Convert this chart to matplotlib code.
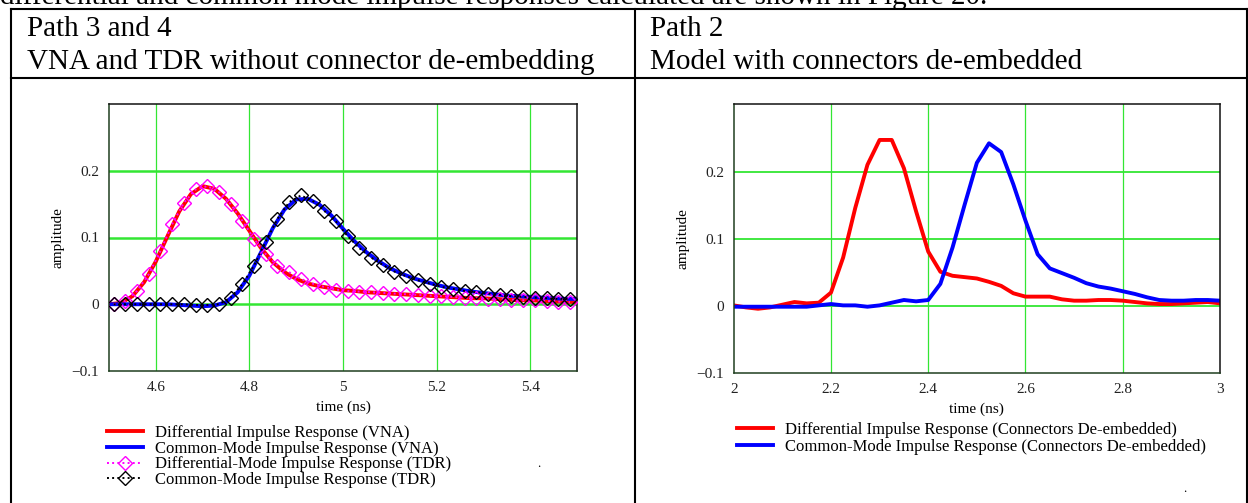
import matplotlib.pyplot as plt
import matplotlib.lines as mlines
import numpy as np

plt.rcParams['font.family'] = ['Liberation Serif', 'DejaVu Serif']

W, H = 1248, 503

# ---- Daten: linkes Diagramm (Path 3 und 4) ----
t_vna = np.round(np.arange(4.5, 5.5001, 0.025), 3)
diff_vna = [0.0, 0.002, 0.012, 0.033, 0.064, 0.102, 0.139, 0.165, 0.177, 0.173,
            0.158, 0.136, 0.110, 0.084, 0.063, 0.048, 0.038, 0.031, 0.027, 0.024,
            0.021, 0.020, 0.018, 0.017, 0.016, 0.015, 0.014, 0.013, 0.012, 0.011,
            0.010, 0.009, 0.009, 0.008, 0.007, 0.006, 0.006, 0.005, 0.004, 0.004,
            0.003]
cm_vna = [0.0, 0.0, 0.0, 0.0, 0.0, 0.0, -0.001, -0.002, -0.003, -0.002,
          0.003, 0.018, 0.043, 0.078, 0.114, 0.142, 0.157, 0.158, 0.149, 0.133,
          0.113, 0.094, 0.078, 0.065, 0.054, 0.046, 0.039, 0.034, 0.029, 0.025,
          0.022, 0.019, 0.017, 0.015, 0.013, 0.012, 0.011, 0.010, 0.009, 0.008,
          0.008]

t_tdr = np.round(np.arange(4.51, 5.49, 0.025), 3)
diff_tdr = [0.0, 0.005, 0.020, 0.045, 0.080, 0.120, 0.152, 0.172, 0.177, 0.168,
            0.150, 0.125, 0.098, 0.075, 0.058, 0.048, 0.038, 0.031, 0.026, 0.022,
            0.020, 0.019, 0.018, 0.017, 0.016, 0.015, 0.014, 0.013, 0.012, 0.011,
            0.010, 0.009, 0.008, 0.008, 0.007, 0.006, 0.006, 0.005, 0.004, 0.003]
cm_tdr = [0.0, 0.0, 0.0, 0.0, 0.0, 0.0, 0.0, -0.001, -0.001, 0.0,
          0.010, 0.030, 0.058, 0.094, 0.128, 0.153, 0.163, 0.155, 0.140, 0.124,
          0.102, 0.084, 0.070, 0.059, 0.049, 0.042, 0.036, 0.031, 0.026, 0.023,
          0.020, 0.018, 0.016, 0.014, 0.012, 0.011, 0.010, 0.009, 0.008, 0.008]

# ---- Daten: rechtes Diagramm (Path 2) ----
t_model = np.round(np.arange(2.0, 3.0001, 0.025), 3)
diff_model = [0.001, -0.002, -0.004, -0.002, 0.002, 0.006, 0.004, 0.005, 0.020, 0.072,
              0.146, 0.210, 0.247, 0.247, 0.205, 0.141, 0.081, 0.051, 0.045, 0.043,
              0.041, 0.036, 0.030, 0.019, 0.014, 0.014, 0.014, 0.010, 0.008, 0.008,
              0.009, 0.009, 0.008, 0.006, 0.004, 0.003, 0.003, 0.004, 0.005, 0.006,
              0.004]
cm_model = [-0.001, -0.001, -0.001, -0.001, -0.001, -0.001, -0.001, 0.001, 0.003, 0.001,
            0.001, -0.001, 0.001, 0.005, 0.009, 0.007, 0.009, 0.033, 0.087, 0.151,
            0.213, 0.242, 0.229, 0.181, 0.127, 0.077, 0.056, 0.049, 0.042, 0.034,
            0.029, 0.026, 0.022, 0.018, 0.013, 0.009, 0.008, 0.008, 0.009, 0.009,
            0.008]

left_xticks = [4.6, 4.8, 5.0, 5.2, 5.4]
left_xlabels = ['4.6', '4.8', '5', '5.2', '5.4']
right_xticks = [2.0, 2.2, 2.4, 2.6, 2.8, 3.0]
right_xlabels = ['2', '2.2', '2.4', '2.6', '2.8', '3']
yticks = [-0.1, 0.0, 0.1, 0.2]
ylabels = ['\u22120.1', '0', '0.1', '0.2']

left_legend = ['Differential Impulse Response (VNA)',
               'Common-Mode Impulse Response (VNA)',
               'Differential-Mode Impulse Response (TDR)',
               'Common-Mode Impulse Response (TDR)']
right_legend = ['Differential Impulse Response (Connectors De-embedded)',
                'Common-Mode Impulse Response (Connectors De-embedded)']

GREEN = '#33e633'
RED = '#ff0000'
BLUE = '#0000ff'
MAG = '#ff00ff'


def px_axes(fig, x0, y0, x1, y1):
    """Achse in Pixelkoordinaten (oben links = 0,0)."""
    return fig.add_axes([x0 / W, 1 - y1 / H, (x1 - x0) / W, (y1 - y0) / H])


def style_axes(ax, xlim, xticks, xlabels, hgrid_lw):
    ax.set_xlim(*xlim)
    ax.set_ylim(-0.1, 0.3)
    for x in xticks:
        if xlim[0] < x < xlim[1]:
            ax.axvline(x, color=GREEN, lw=0.9, zorder=0)
    for y in [0.0, 0.1, 0.2]:
        ax.axhline(y, color=GREEN, lw=hgrid_lw, zorder=0)
    ax.set_xticks(xticks)
    ax.set_xticklabels(xlabels)
    ax.set_yticks(yticks)
    ax.set_yticklabels(ylabels)
    ax.tick_params(length=0, labelsize=11, pad=7, colors='#222222')
    for side in ['top', 'right']:
        ax.spines[side].set_color('#111111')
    for side in ['left', 'bottom']:
        ax.spines[side].set_color('#1f3f1f')
    for s in ax.spines.values():
        s.set_linewidth(1.1)
    ax.set_xlabel('time (ns)', fontsize=11, labelpad=5)
    ax.set_ylabel('amplitude', fontsize=11, labelpad=5)


fig = plt.figure(figsize=(W / 100, H / 100), dpi=100)

# Tabellenrahmen
tab = fig.add_axes([0, 0, 1, 1])
tab.set_xlim(0, W)
tab.set_ylim(H, 0)
tab.axis('off')
for y in [9.3, 77.7]:
    tab.plot([11, W], [y, y], color='black', lw=1.5)
for x in [11, 634.7, 1246.5]:
    tab.plot([x, x], [9.3, H], color='black', lw=1.5)

# abgeschnittene Textzeile oben
tab.text(0, 4, 'differential and common mode impulse responses calculated are shown in Figure 20.',
         fontsize=21, va='baseline', ha='left')
tab.text(27, 36, 'Path 3 and 4', fontsize=21, va='baseline')
tab.text(27, 69, 'VNA and TDR without connector de-embedding', fontsize=21, va='baseline')
tab.text(650, 36, 'Path 2', fontsize=21, va='baseline')
tab.text(650, 69, 'Model with connectors de-embedded', fontsize=21, va='baseline')
tab.text(537, 467, '.', fontsize=9)
tab.text(1183, 492, '.', fontsize=9)

# linkes Diagramm
ax1 = px_axes(fig, 109, 104, 577, 371)
style_axes(ax1, (4.5, 5.5), left_xticks, left_xlabels, 1.8)
ax1.plot(t_vna, diff_vna, color=RED, lw=2.8, zorder=2)
ax1.plot(t_vna, cm_vna, color=BLUE, lw=2.8, zorder=2)
ax1.plot(t_tdr, diff_tdr, color=MAG, ls=':', lw=1.4, marker='D', ms=7.5,
         mfc='none', mec=MAG, mew=1.0, zorder=3)
ax1.plot(t_tdr, cm_tdr, color='black', ls=':', lw=1.4, marker='D', ms=7.5,
         mfc='none', mec='black', mew=1.0, zorder=3)

h1 = [mlines.Line2D([], [], color=RED, lw=2.8),
      mlines.Line2D([], [], color=BLUE, lw=2.8),
      mlines.Line2D([], [], color=MAG, ls=':', lw=1.4, marker='D', ms=7, mfc='none', mew=1.0),
      mlines.Line2D([], [], color='black', ls=':', lw=1.4, marker='D', ms=7, mfc='none', mew=1.0)]
fig.legend(h1, left_legend, loc='upper left', bbox_to_anchor=(107 / W, 1 - 425 / H),
           frameon=False, fontsize=12, handlelength=2.15, handletextpad=0.75,
           borderpad=0, borderaxespad=0, labelspacing=-0.02, numpoints=1)

# rechtes Diagramm
ax2 = px_axes(fig, 733.7, 104.3, 1220, 373.3)
style_axes(ax2, (2.0, 3.0), right_xticks, right_xlabels, 1.3)
ax2.plot(t_model, diff_model, color=RED, lw=2.8, zorder=2)
ax2.plot(t_model, cm_model, color=BLUE, lw=2.8, zorder=2)

h2 = [mlines.Line2D([], [], color=RED, lw=2.8),
      mlines.Line2D([], [], color=BLUE, lw=2.8)]
fig.legend(h2, right_legend, loc='upper left', bbox_to_anchor=(737 / W, 1 - 422 / H),
           frameon=False, fontsize=12, handlelength=2.15, handletextpad=0.75,
           borderpad=0, borderaxespad=0, labelspacing=0.07)

fig.savefig('out.png', dpi=100)
